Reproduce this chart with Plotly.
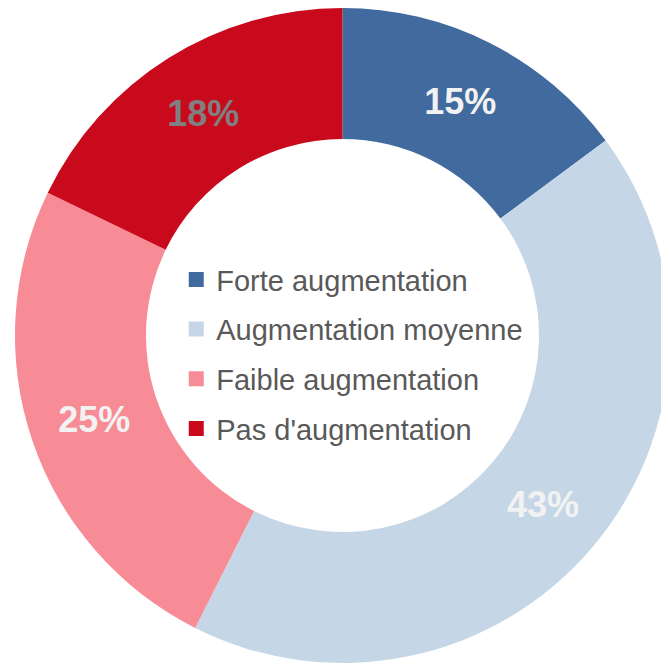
import plotly.graph_objects as go

categories = ["Forte augmentation", "Augmentation moyenne", "Faible augmentation", "Pas d'augmentation"]
values = [15, 43, 25, 18]
labels_text = ["15%", "43%", "25%", "18%"]
colors = ["#416A9E", "#C5D7E6", "#F78B96", "#C9091C"]
text_colors = ["#F2F2F2", "#F2F2F2", "#F2F2F2", "#808080"]

fig = go.Figure()
fig.add_trace(go.Pie(
    labels=categories,
    values=values,
    text=labels_text,
    texttemplate="%{text}",
    textposition="inside",
    insidetextorientation="horizontal",
    textfont=dict(family="Liberation Sans", size=36, color=text_colors, weight="bold"),
    marker=dict(colors=colors, line=dict(width=0)),
    hole=0.6,
    sort=False,
    direction="clockwise",
    rotation=0,
    showlegend=False,
    domain=dict(x=[0.0, 1.0], y=[0.015, 1.0]),
    hoverinfo="label+percent",
))

for i, (cat, col) in enumerate(zip(categories, colors)):
    fig.add_trace(go.Scatter(
        x=[None], y=[None], mode="markers", name=cat,
        marker=dict(symbol="square", size=15, color=col),
        legendgroup=f"g{i}", showlegend=True,
    ))

fig.update_layout(
    width=669, height=665,
    margin=dict(l=0, r=0, t=0, b=0),
    paper_bgcolor="white", plot_bgcolor="white",
    xaxis=dict(visible=False), yaxis=dict(visible=False),
    legend=dict(
        x=0.2515, y=0.63, xanchor="left", yanchor="top",
        font=dict(family="Liberation Sans", size=29, color="#595959"),
        tracegroupgap=9, bgcolor="rgba(0,0,0,0)",
    ),
)

fig.write_html("out.html")
